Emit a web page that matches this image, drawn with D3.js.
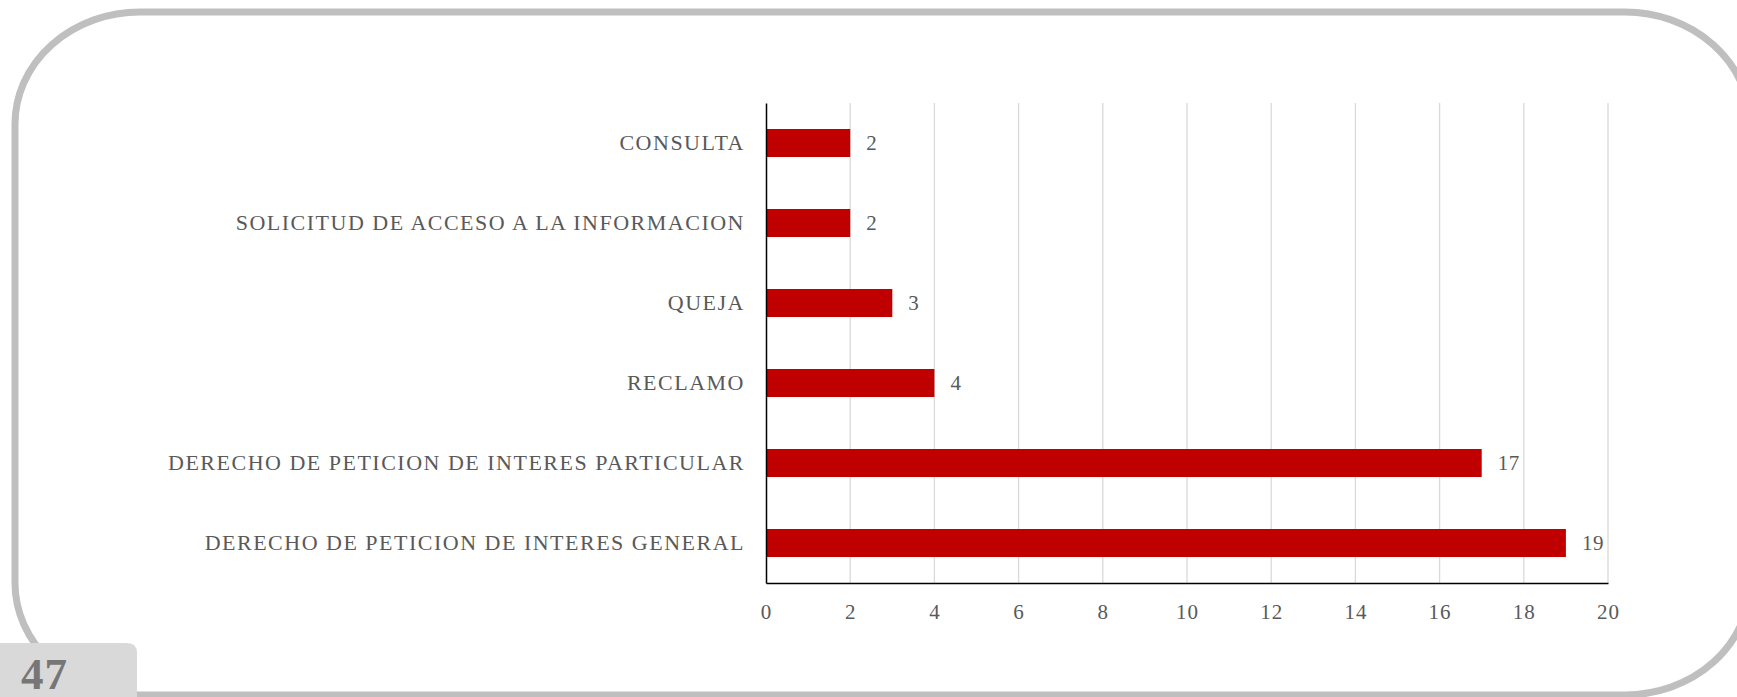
<!DOCTYPE html>
<html>
<head>
<meta charset="utf-8">
<script src="https://cdn.jsdelivr.net/npm/d3@7"></script>
<style>
  body { margin: 0; background: #fff; }
  svg { display: block; }
</style>
</head>
<body>
<div id="chart"></div>
<script>
// categories top to bottom, and their counts
const categories = [
  "CONSULTA",
  "SOLICITUD DE ACCESO A LA INFORMACION",
  "QUEJA",
  "RECLAMO",
  "DERECHO DE PETICION DE INTERES PARTICULAR",
  "DERECHO DE PETICION DE INTERES GENERAL"
];
const counts = [2, 2, 3, 4, 17, 19];
const xTicks = [0, 2, 4, 6, 8, 10, 12, 14, 16, 18, 20];
const pageNumber = "47";

const W = 1737, H = 697;
const margin = { top: 103, right: 129, bottom: 114, left: 766 };
const width = W - margin.left - margin.right;
const height = H - margin.top - margin.bottom;
const font = "'Liberation Serif', 'DejaVu Serif', serif";

const svg = d3.select("#chart").append("svg")
    .attr("width", W)
    .attr("height", H);

// page frame
svg.append("rect")
    .attr("x", 15)
    .attr("y", 12)
    .attr("width", 1735)
    .attr("height", 683)
    .attr("rx", 125)
    .attr("ry", 112)
    .attr("fill", "none")
    .attr("stroke", "#bfbfbf")
    .attr("stroke-width", 7);

// page number tab
svg.append("path")
    .attr("d", "M0,643 H127 Q137,643 137,653 V697 H0 Z")
    .attr("fill", "#d9d9d9");
svg.append("text")
    .attr("x", 21)
    .attr("y", 689)
    .attr("font-family", font)
    .attr("font-weight", "bold")
    .attr("font-size", 45)
    .attr("letter-spacing", 1)
    .attr("fill", "#767676")
    .text(pageNumber);

const g = svg.append("g")
    .attr("transform", `translate(${margin.left},${margin.top})`);

const x = d3.scaleLinear()
    .domain([0, 20])
    .range([0, width]);

const y = d3.scaleBand()
    .domain(categories)
    .range([0, height])
    .paddingInner(0.65)
    .paddingOuter(0.325);

// vertical gridlines
g.append("g")
    .selectAll("line")
    .data(xTicks.filter(d => d > 0))
    .join("line")
    .attr("x1", d => x(d))
    .attr("x2", d => x(d))
    .attr("y1", 0)
    .attr("y2", height)
    .attr("stroke", "#d9d9d9")
    .attr("stroke-width", 1.3);

// bars
g.selectAll(".bar")
    .data(counts)
    .join("rect")
    .attr("class", "bar")
    .attr("x", x(0))
    .attr("y", (d, i) => y(categories[i]))
    .attr("width", d => x(d) - x(0))
    .attr("height", y.bandwidth())
    .attr("fill", "#c00000");

// value labels
g.selectAll(".val")
    .data(counts)
    .join("text")
    .attr("class", "val")
    .attr("x", d => x(d) + 16)
    .attr("y", (d, i) => y(categories[i]) + y.bandwidth() / 2)
    .attr("dy", "0.35em")
    .attr("font-family", font)
    .attr("font-size", 21)
    .attr("letter-spacing", 0.5)
    .attr("fill", "#595959")
    .text(d => d);

// x axis
const xAxis = g.append("g")
    .attr("transform", `translate(0,${height})`)
    .call(d3.axisBottom(x).tickValues(xTicks).tickSize(0).tickPadding(21));
xAxis.select(".domain").attr("stroke", "#000").attr("stroke-width", 1.5);
xAxis.selectAll("text")
    .attr("font-family", font)
    .attr("font-size", 21)
    .attr("letter-spacing", 1)
    .attr("fill", "#595959");

// y axis
const yAxis = g.append("g")
    .call(d3.axisLeft(y).tickSize(0).tickPadding(21));
yAxis.select(".domain").attr("stroke", "#000").attr("stroke-width", 1.5);
yAxis.selectAll("text")
    .attr("font-family", font)
    .attr("font-size", 22)
    .attr("letter-spacing", 1.5)
    .attr("fill", "#595959");
</script>
</body>
</html>
